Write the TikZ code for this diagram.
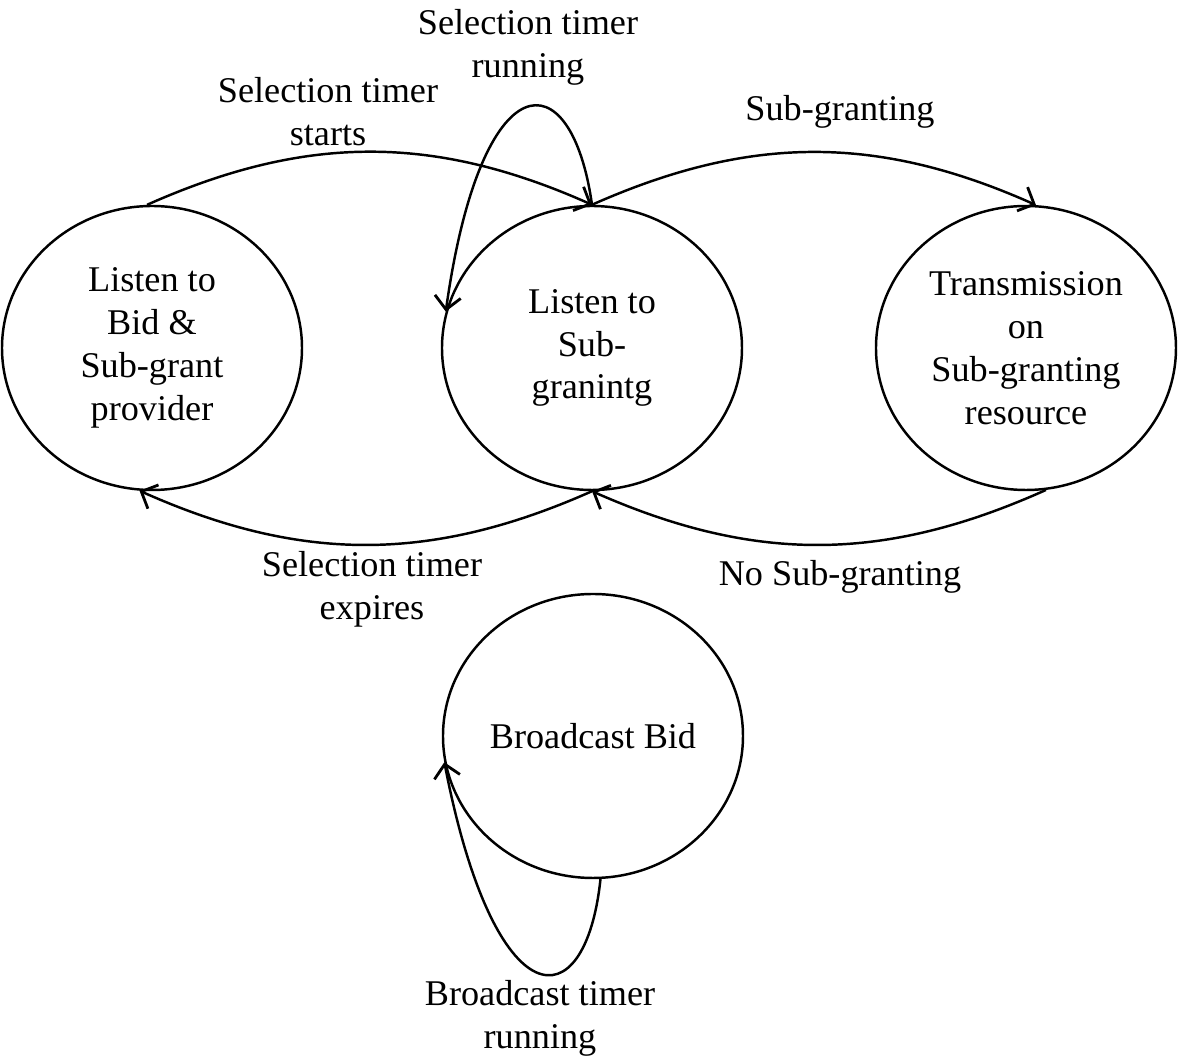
\documentclass[tikz,border=0pt]{standalone}
\usepackage{fontspec}
\setmainfont{Liberation Serif}
\usetikzlibrary{shapes}
\usetikzlibrary{arrows.meta}
\tikzset{mystate/.style={draw, ellipse, minimum width=3cm, minimum height=2.84cm, inner sep=0pt, align=center, line width=0.7pt}}
\tikzset{mylabel/.style={align=center, inner sep=0pt}}
\tikzset{myedge/.style={-{Straight Barb[length=1.3mm, width=2.6mm, line width=0.8pt]}, line width=0.7pt}}

\begin{document}
\begin{tikzpicture}[font=\fontsize{10.3}{12.2}\selectfont]
\useasboundingbox (0,0) rectangle (11.82,-10.57);

\node[mystate] (bidprov) at (1.52, -3.48) {Listen to\\Bid \&\\Sub-grant\\provider};
\node[mystate] (subgr) at (5.92, -3.48) {Listen to\\Sub-\\granintg};
\node[mystate] (trans) at (10.26, -3.48) {Transmission\\on\\Sub-granting\\resource};
\node[mystate] (bcast) at (5.93, -7.36) {Broadcast Bid};

\node[mylabel] (lstart) at (3.28, -1.12) {Selection timer\\starts};
\node[mylabel] (lrun) at (5.28, -0.47) {Selection timer\\running};
\node[mylabel] (lsub) at (8.40, -1.12) {Sub-granting};
\node[mylabel] (lexp) at (3.72, -5.89) {Selection timer\\expires};
\node[mylabel] (lnosub) at (8.40, -5.77) {No Sub-granting};
\node[mylabel] (lbrun) at (5.40, -10.18) {Broadcast timer\\running};

\draw[myedge] (bidprov.92) to[bend left=24] (subgr.north);
\draw[myedge] (subgr.north) to[bend left=24] (trans.86);
\draw[myedge] (trans.-82) to[bend left=24] (subgr.south);
\draw[myedge] (subgr.south) to[bend left=24] (bidprov.265);
\draw[myedge] (subgr.north) to[out=98, in=82, out looseness=2.1, in looseness=3.6] (subgr.166);
\draw[myedge] (bcast.-87) to[out=-96, in=-79, out looseness=1.9, in looseness=3.45] (bcast.190);

\end{tikzpicture}
\end{document}
